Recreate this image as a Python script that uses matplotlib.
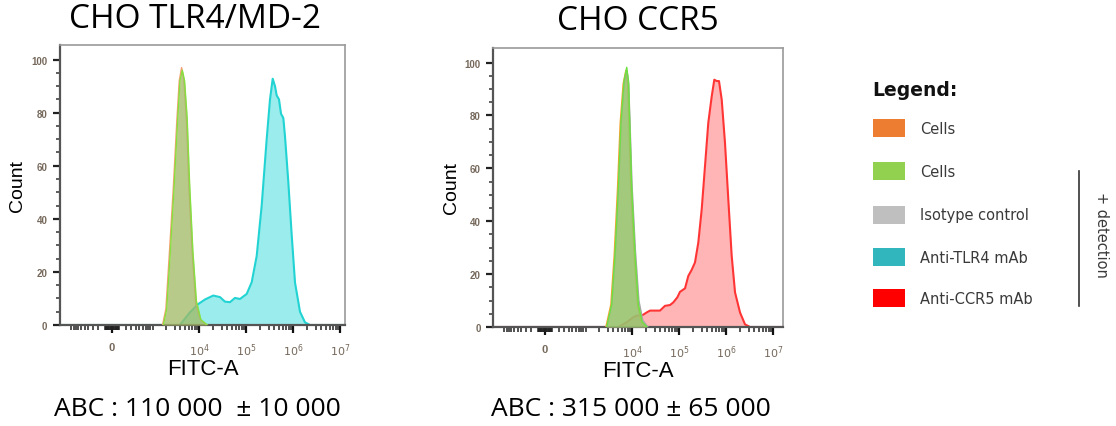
import numpy as np
import matplotlib
matplotlib.use("Agg")
import matplotlib.pyplot as plt
from matplotlib.patches import Rectangle
from matplotlib.lines import Line2D
from matplotlib.ticker import FixedLocator, FixedFormatter, NullFormatter

# ---------------- data (FITC-A intensity, count) ----------------
tlr4_cells_x = [1650, 1950, 2300, 2820, 3350, 3770, 4230, 4740, 5380, 6080, 7150, 8500, 10600, 14500]
tlr4_cells_y = [0, 6, 26, 52, 77, 92, 97, 92, 77, 52, 27, 8, 2, 0]
tlr4_cellsdet_x = [1720, 2030, 2400, 2930, 3480, 3900, 4385, 4900, 5560, 6280, 7350, 8750, 10900, 15000]
tlr4_cellsdet_y = [0, 6, 26, 52, 77, 92, 96, 92, 78, 53, 28, 9, 2, 0]
tlr4_mab_x = [3900, 6400, 9600, 13300, 20000, 27800, 35500, 45400, 57900, 74000,
              102800, 131300, 167800, 214300, 273600, 322000, 367400, 411500, 446900,
              500400, 552300, 618400, 671800, 788900, 931600, 1096000, 1400000,
              1787000, 2285000]
tlr4_mab_y = [0, 4.8, 7.9, 9.6, 11.1, 10.5, 8.8, 8.6, 10.2, 9.8, 11.7, 16.1, 26, 45,
              70, 85, 92.8, 90, 86.5, 85, 79.6, 78, 71, 54, 34, 16, 5, 1, 0]

ccr5_cells_x = [2750, 3520, 4140, 4870, 5560, 6440, 7350, 8030, 8510, 9390, 11040, 12980, 15570, 19880]
ccr5_cells_y = [0, 8.5, 27, 52, 77, 92, 97, 92, 77, 52, 27, 8.5, 2, 0]
ccr5_iso_x = [2900, 3710, 4360, 5130, 5860, 6780, 7740, 8450, 8990, 9930, 11740, 13930, 16880, 21700]
ccr5_iso_y = [0, 8.5, 27, 52, 77, 92, 97, 92, 78, 54, 29, 10, 2.5, 0]
ccr5_cellsdet_x = [2873, 3674, 4318, 5081, 5798, 6710, 7660, 8370, 8875, 9790, 11510, 13530, 16230, 20720]
ccr5_cellsdet_y = [0, 8.7, 27.5, 52.7, 77.8, 93, 98.2, 93, 77.8, 52.7, 27.5, 8.7, 2, 0]
ccr5_mab_x = [5080, 7660, 10580, 12500, 15970, 20410, 23980, 39150, 50000, 63900,
              75200, 91500, 104400, 133400, 156700, 184800, 217400, 255800, 302200,
              355000, 417200, 493500, 560200, 630000, 704800, 805100, 946100,
              1112000, 1313000, 1546000, 1974000, 2521000, 3221000]
ccr5_mab_y = [0, 1.8, 3.7, 4.3, 4.3, 5.5, 6.2, 6.2, 8.0, 8.3, 9.3, 11.2, 13.3, 14.6,
              19.3, 21.6, 24.4, 31.9, 44.5, 60.8, 77.2, 87.2, 93.5, 93, 93, 86, 69.6,
              48.3, 26.9, 13.1, 5.5, 1.0, 0]

titles = ["CHO TLR4/MD-2", "CHO CCR5"]
abc_texts = ["ABC : 110 000  \u00b1 10 000", "ABC : 315 000 \u00b1 65 000"]
x_tick_values = [0, 1e4, 1e5, 1e6, 1e7]
x_tick_labels = ["0", "$10^4$", "$10^5$", "$10^6$", "$10^7$"]
y_tick_values = [0, 20, 40, 60, 80, 100]

legend_title = "Legend:"
legend_labels = ["Cells", "Cells", "Isotype control", "Anti-TLR4 mAb", "Anti-CCR5 mAb"]
legend_colors = ["#ED7D31", "#92D050", "#BFBFBF", "#31B6BD", "#FF0000"]
bracket_label = "+ detection"

# ---------------- layout ----------------
W, H = 1116, 427
fig = plt.figure(figsize=(W / 100, H / 100), dpi=100)

def fx(px):
    return px / W

def fy(py):
    return 1 - py / H

WB = 140.0
LN10 = np.log(10.0)

def fwd(x):
    return np.arcsinh(np.asarray(x, dtype=float) / (2 * WB)) / LN10

def inv(f):
    return 2 * WB * np.sinh(np.asarray(f, dtype=float) * LN10)

tick_color = "#76695c"
text_font = ["Liberation Sans", "DejaVu Sans"]

def setup_axes(ax, f_left, f_right, ylabel_x):
    ax.set_xscale("function", functions=(fwd, inv))
    ax.set_xlim(float(inv(f_left)), float(inv(f_right)))
    ax.set_ylim(0, 105.5)
    minors = []
    for n in range(1, 7):
        for k in range(1, 10):
            v = k * 10 ** n
            if v < 1.6e7:
                minors.append(v)
                if n <= 3:
                    minors.append(-v)
    minors = [m for m in minors if m not in x_tick_values and m > inv(f_left)]
    ax.xaxis.set_major_locator(FixedLocator(x_tick_values))
    ax.xaxis.set_major_formatter(FixedFormatter(x_tick_labels))
    ax.xaxis.set_minor_locator(FixedLocator(minors))
    ax.xaxis.set_minor_formatter(NullFormatter())
    ax.tick_params(axis="x", which="major", direction="out", length=6, width=1.6,
                   colors="#111111", labelcolor=tick_color, labelsize=8, pad=6)
    ax.tick_params(axis="x", which="minor", direction="out", length=3.5, width=1.1,
                   colors="#222222")
    ax.yaxis.set_major_locator(FixedLocator(y_tick_values))
    ax.yaxis.set_minor_locator(FixedLocator([v for v in range(0, 105, 5) if v % 20]))
    ax.tick_params(axis="y", which="major", direction="out", length=5, width=1.6,
                   colors="#222222", labelcolor=tick_color, labelsize=7, pad=4)
    ax.tick_params(axis="y", which="minor", direction="out", length=3, width=1.1,
                   colors="#333333")
    for lab in ax.get_xticklabels() + ax.get_yticklabels():
        lab.set_fontweight("bold")
        lab.set_fontfamily(text_font)
    for side in ["top", "right"]:
        ax.spines[side].set_color("#9a9a9a")
        ax.spines[side].set_linewidth(1.2)
    for side in ["left", "bottom"]:
        ax.spines[side].set_color("#555555")
        ax.spines[side].set_linewidth(1.6)
    ax.set_ylabel("Count", fontsize=14, family=text_font)
    ax.yaxis.set_label_coords(ylabel_x, 0.5)
    ax.set_xlabel("FITC-A", fontsize=16, family=text_font, labelpad=0)

def hist(ax, xs, ys, line_color, fill_color, alpha, lw=1.3, z=2, full=False):
    xs = list(xs)
    ys = list(ys)
    if full:
        lo, hi = ax.get_xlim()
        xs = [lo] + xs + [hi]
        ys = [0] + ys + [0]
    ax.fill_between(xs, ys, 0, color=fill_color, alpha=alpha, lw=0, zorder=z)
    ax.plot(xs, ys, color=line_color, lw=lw, zorder=z + 0.1, solid_joinstyle="round")

# left panel
ax1 = fig.add_axes([fx(60), fy(326), fx(285), (326 - 46) / H])
setup_axes(ax1, -52 / 47, 233 / 47, -0.118)
hist(ax1, tlr4_mab_x, tlr4_mab_y, "#22D3D3", "#8FEBEA", 0.9, lw=1.5, z=2, full=True)
hist(ax1, tlr4_cells_x, tlr4_cells_y, "#F4A070", "#EFA560", 0.4, lw=1.0, z=3)
hist(ax1, tlr4_cellsdet_x, tlr4_cellsdet_y, "#86E040", "#8DBF66", 0.6, lw=1.0, z=4)

# right panel
ax2 = fig.add_axes([fx(493), fy(328), fx(290), (328 - 49) / H])
setup_axes(ax2, -52 / 47, 238 / 47, -0.115)
hist(ax2, ccr5_mab_x, ccr5_mab_y, "#FF3535", "#FFA8A8", 0.85, lw=1.5, z=2, full=True)
hist(ax2, ccr5_cells_x, ccr5_cells_y, "#F7A030", "#EFA560", 0.45, lw=1.0, z=3)
hist(ax2, ccr5_iso_x, ccr5_iso_y, "#A8A8A8", "#BBBBBB", 0.45, lw=1.0, z=4)
hist(ax2, ccr5_cellsdet_x, ccr5_cellsdet_y, "#6EE040", "#86CA5E", 0.65, lw=1.0, z=5)

# titles and ABC texts
title_font = ["Open Sans", "DejaVu Sans"]
fig.text(fx(195), fy(19), titles[0], ha="center", va="center", fontsize=24,
         family=title_font, color="#000000")
fig.text(fx(638), fy(22), titles[1], ha="center", va="center", fontsize=24,
         family=title_font, color="#000000")
fig.text(fx(197), fy(410), abc_texts[0], ha="center", va="center", fontsize=19,
         family=title_font, color="#000000")
fig.text(fx(631), fy(410), abc_texts[1], ha="center", va="center", fontsize=19,
         family=title_font, color="#000000")

# legend
leg_font = ["DejaVu Sans"]
fig.text(fx(872), fy(90), legend_title, ha="left", va="center", fontsize=13.5,
         fontweight="bold", family=leg_font, color="#111111")
row_y = [129.3, 172.3, 216.0, 258.3, 299.3]
for yy, lab, col in zip(row_y, legend_labels, legend_colors):
    fig.patches.append(Rectangle((fx(872.5), fy(yy + 9)), fx(32.5), 18 / H,
                                 transform=fig.transFigure, facecolor=col,
                                 edgecolor="none"))
    fig.text(fx(920), fy(yy), lab, ha="left", va="center", fontsize=10.5,
             family=leg_font, color="#3a3a3a")
fig.add_artist(Line2D([fx(1079.3), fx(1079.3)], [fy(171.7), fy(307.3)],
                      transform=fig.transFigure, color="#333333", lw=1.2))
fig.text(fx(1101.5), fy(235), bracket_label, ha="center", va="center", rotation=270,
         fontsize=10.5, family=leg_font, color="#3a3a3a")

fig.savefig("out.png", dpi=100)
